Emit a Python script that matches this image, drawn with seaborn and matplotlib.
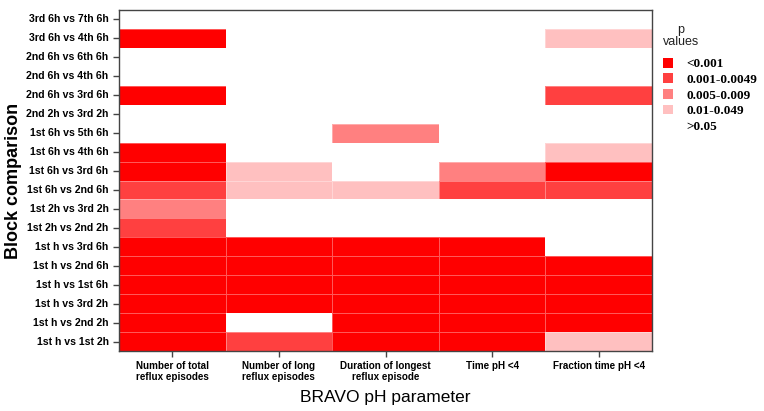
import numpy as np
import pandas as pd
import matplotlib
matplotlib.use("Agg")
import matplotlib.pyplot as plt
from matplotlib.colors import ListedColormap
from matplotlib.patches import Patch
import seaborn as sns

comparisons = [
    "3rd 6h vs 7th 6h", "3rd 6h vs 4th 6h", "2nd 6h vs 6th 6h", "2nd 6h vs 4th 6h",
    "2nd 6h vs 3rd 6h", "2nd 2h vs 3rd 2h", "1st 6h vs 5th 6h", "1st 6h vs 4th 6h",
    "1st 6h vs 3rd 6h", "1st 6h vs 2nd 6h", "1st 2h vs 3rd 2h", "1st 2h vs 2nd 2h",
    "1st h vs 3rd 6h", "1st h vs 2nd 6h", "1st h vs 1st 6h", "1st h vs 3rd 2h",
    "1st h vs 2nd 2h", "1st h vs 1st 2h",
]
parameters = [
    "Number of total\nreflux episodes", "Number of long\nreflux episodes",
    "Duration of longest\nreflux episode", "Time pH <4", "Fraction time pH <4",
]
# p-value category index: 0 <0.001, 1 0.001-0.0049, 2 0.005-0.009, 3 0.01-0.049, 4 >0.05
total_episodes = [4, 0, 4, 4, 0, 4, 4, 0, 0, 1, 2, 1, 0, 0, 0, 0, 0, 0]
long_episodes  = [4, 4, 4, 4, 4, 4, 4, 4, 3, 3, 4, 4, 0, 0, 0, 0, 4, 1]
longest_dur    = [4, 4, 4, 4, 4, 4, 2, 4, 4, 3, 4, 4, 0, 0, 0, 0, 0, 0]
time_ph4       = [4, 4, 4, 4, 4, 4, 4, 4, 2, 1, 4, 4, 0, 0, 0, 0, 0, 0]
fraction_ph4   = [4, 3, 4, 4, 1, 4, 4, 3, 0, 1, 4, 4, 4, 0, 0, 0, 0, 3]
legend_labels = ["<0.001", "0.001-0.0049", "0.005-0.009", "0.01-0.049", ">0.05"]
colors = ["#ff0000", "#ff4040", "#ff8080", "#ffc0c0", "#ffffff"]

df = pd.DataFrame(
    np.array([total_episodes, long_episodes, longest_dur, time_ph4, fraction_ph4]).T,
    index=comparisons, columns=parameters,
)

fig = plt.figure(figsize=(7.64, 4.11), dpi=100)
ax = fig.add_axes([119 / 764, 1 - 351 / 411, (652 - 119) / 764, (351 - 10) / 411])
cmap = ListedColormap(colors)
sns.heatmap(df, ax=ax, cmap=cmap, vmin=-0.5, vmax=4.5, cbar=False,
            linewidths=0.4, linecolor=(1, 1, 1, 0.35))

for s in ax.spines.values():
    s.set_visible(True)
    s.set_color("#444444")
    s.set_linewidth(1.0)
ax.tick_params(axis="both", length=4, width=1, color="#444444", direction="out")
ax.set_yticklabels(comparisons, rotation=0, fontsize=7.6, fontweight="bold",
                   family="Liberation Sans")
ax.set_xticklabels(parameters, rotation=0, fontsize=7.1, fontweight="bold",
                   family="Liberation Sans", linespacing=1.05)
ax.set_ylabel("Block comparison", fontsize=13, fontweight="bold",
              family="Liberation Sans", labelpad=3)
ax.set_xlabel("BRAVO pH parameter", fontsize=12.5, family="Liberation Sans", labelpad=6)

handles = [Patch(facecolor=c, edgecolor="none") for c in colors]
fig.legend(handles, legend_labels, loc="upper left", bbox_to_anchor=(651 / 764, 1 - 46 / 411),
           frameon=False, handlelength=0.75, handleheight=0.75, handletextpad=1.05,
           labelspacing=0.24, prop={"family": "Liberation Serif", "weight": "bold", "size": 9.5})
fig.text(681 / 764, 1 - 36 / 411, "p\nvalues", ha="center", va="center",
         multialignment="center", fontsize=9, family="Liberation Sans",
         linespacing=0.9, color="#222222")

fig.savefig("out.png", dpi=100)
